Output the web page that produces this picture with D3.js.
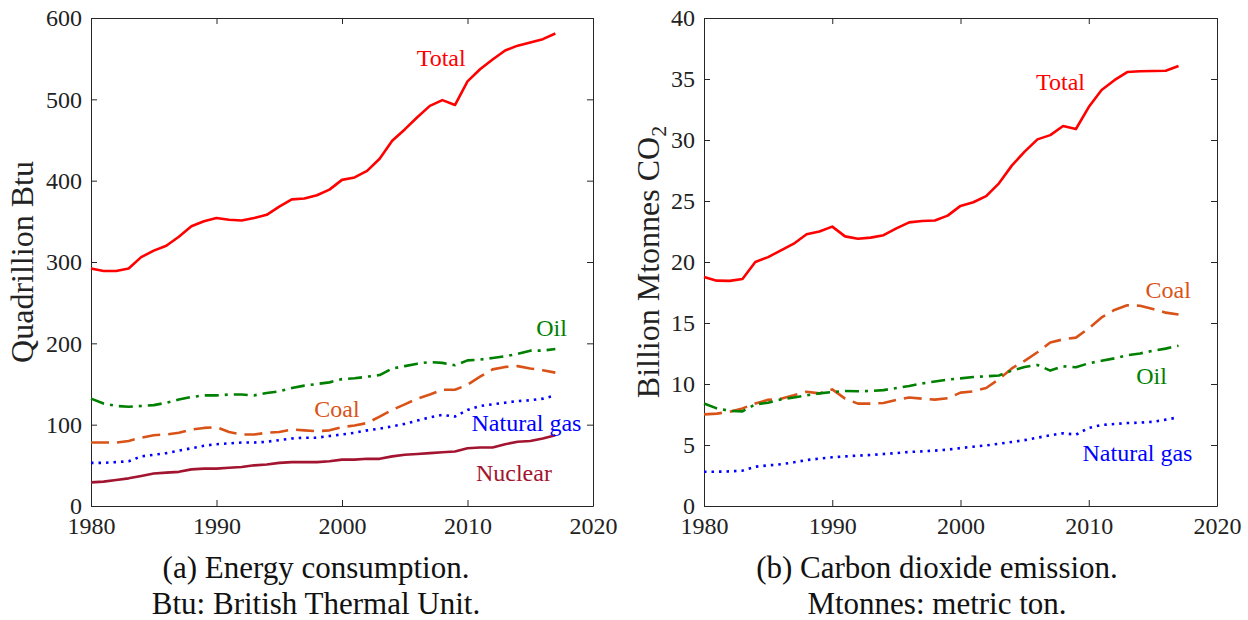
<!DOCTYPE html>
<html>
<head>
<meta charset="utf-8">
<script src="https://cdn.jsdelivr.net/npm/d3@7"></script>
<style>
  html, body { margin: 0; padding: 0; background: #fff; }
  svg { display: block; }
  text { font-family: "Liberation Serif", "DejaVu Serif", serif; }
</style>
</head>
<body>
<svg id="chart" width="1248" height="620"></svg>
<script>
// ---- data ----------------------------------------------------------
const years = [1980,1981,1982,1983,1984,1985,1986,1987,1988,1989,
               1990,1991,1992,1993,1994,1995,1996,1997,1998,1999,
               2000,2001,2002,2003,2004,2005,2006,2007,2008,2009,
               2010,2011,2012,2013,2014,2015,2016,2017];

// Energy consumption, quadrillion Btu
const energyTotal = [292,289,289,292,306,314,320,331,344,350,
                     354,352,351,354,358,368,377,378,382,389,
                     401,404,412,427,449,463,478,492,499,493,
                     522,537,549,560,566,570,574,581];
const energyOil = [132,126,123,122,123,124,127,131,134,136,
                   136,137,137,136,139,141,145,148,150,152,
                   156,157,159,161,169,172,175,177,176,173,
                   179,180,182,184,187,191,191,193];
const energyCoal = [78,78,78,80,84,87,88,90,94,96,
                    97,91,88,88,90,91,94,93,92,93,
                    97,99,102,110,118,125,132,137,143,143,
                    149,159,168,171,172,169,167,164];
const energyGas = [53,53,54,55,61,63,65,68,71,74,
                   76,77,78,78,79,81,83,84,84,86,
                   88,90,93,95,98,101,105,109,112,110,
                   118,123,125,127,129,130,132,136];
const energyNuclear = [29,30,32,34,37,40,41,42,45,46,
                       46,47,48,50,51,53,54,54,54,55,
                       57,57,58,58,61,63,64,65,66,67,
                       71,72,72,76,79,80,83,87];

// CO2 emission, billion Mtonnes
const co2Total = [18.77,18.47,18.45,18.6,20.0,20.4,20.96,21.5,22.27,22.5,
                  22.9,22.1,21.9,22.0,22.2,22.76,23.25,23.36,23.4,23.8,
                  24.6,24.9,25.4,26.45,27.9,29.05,30.05,30.4,31.15,30.9,
                  32.7,34.1,34.9,35.57,35.63,35.66,35.68,36.07];
const co2Coal = [7.51,7.57,7.73,8.0,8.4,8.7,8.8,9.07,9.37,9.23,
                 9.56,8.8,8.39,8.39,8.44,8.69,8.9,8.8,8.72,8.83,
                 9.29,9.4,9.67,10.4,11.28,11.9,12.6,13.4,13.66,13.8,
                 14.56,15.46,16.07,16.45,16.42,16.15,15.85,15.7];
const co2Oil = [8.4,8.0,7.8,7.76,8.33,8.47,8.74,8.9,9.07,9.23,
                9.34,9.43,9.4,9.43,9.5,9.67,9.84,10.05,10.2,10.36,
                10.46,10.57,10.63,10.7,11.1,11.4,11.56,11.1,11.45,11.37,
                11.7,11.9,12.1,12.35,12.5,12.73,12.9,13.14];
const co2Gas = [2.81,2.81,2.84,2.9,3.22,3.33,3.42,3.58,3.77,3.88,
                3.99,4.07,4.13,4.18,4.26,4.34,4.43,4.48,4.54,4.62,
                4.75,4.86,4.97,5.1,5.25,5.4,5.6,5.8,5.96,5.85,
                6.4,6.64,6.72,6.8,6.83,6.9,7.08,7.27];

// tick values
const xTicks = [1980, 1990, 2000, 2010, 2020];
const energyTicks = [0, 100, 200, 300, 400, 500, 600];
const co2Ticks = [0, 5, 10, 15, 20, 25, 30, 35, 40];

// series labels placed in data units: [year, value]
const energyLabelText = ["Total", "Oil", "Coal", "Natural gas", "Nuclear"];
const energyLabelPos = [[2007.9, 551], [2016.7, 219], [1999.6, 120], [2014.7, 103], [2013.7, 40.6]];
const co2LabelText = ["Total", "Coal", "Oil", "Natural gas"];
const co2LabelPos = [[2007.8, 34.75], [2016.2, 17.7], [2014.9, 10.7], [2013.8, 4.4]];

// ---- styles ----------------------------------------------------------
const styles = {
  "Total":       { color: "#ff0000", dash: null },
  "Oil":         { color: "#008000", dash: "14,6,3,6" },
  "Coal":        { color: "#d95319", dash: "18,8" },
  "Natural gas": { color: "#0000ff", dash: "2.5,5" },
  "Nuclear":     { color: "#a2142f", dash: null }
};

const svg = d3.select("#chart");
const axisColor = "#262626";

function panel(cfg) {
  const x = d3.scaleLinear().domain([1980, 2020]).range([cfg.left, cfg.right]);
  const y = d3.scaleLinear().domain(cfg.yDomain).range([506, 18]);
  const g = svg.append("g");

  const tick = 6;
  const styleAxis = sel => {
    sel.selectAll("path.domain").attr("stroke", axisColor).attr("stroke-width", 1);
    sel.selectAll(".tick line").attr("stroke", axisColor).attr("stroke-width", 1);
    sel.selectAll(".tick text")
      .attr("fill", "#222")
      .style("font-family", '"Liberation Serif", serif')
      .style("font-size", "24px");
  };

  g.append("g").attr("transform", `translate(0,${y.range()[0]})`)
    .call(d3.axisBottom(x).tickValues(xTicks).tickFormat(d3.format("d"))
      .tickSizeInner(-tick).tickSizeOuter(0).tickPadding(11))
    .call(styleAxis);
  g.append("g").attr("transform", `translate(0,${y.range()[1]})`)
    .call(d3.axisTop(x).tickValues(xTicks).tickFormat("")
      .tickSizeInner(-tick).tickSizeOuter(0))
    .call(styleAxis);
  g.append("g").attr("transform", `translate(${cfg.left},0)`)
    .call(d3.axisLeft(y).tickValues(cfg.yTicks).tickFormat(d3.format("d"))
      .tickSizeInner(-tick).tickSizeOuter(0).tickPadding(9))
    .call(styleAxis);
  g.append("g").attr("transform", `translate(${cfg.right},0)`)
    .call(d3.axisRight(y).tickValues(cfg.yTicks).tickFormat("")
      .tickSizeInner(-tick).tickSizeOuter(0))
    .call(styleAxis);

  const line = d3.line().x((d, i) => x(years[i])).y(d => y(d));
  cfg.series.forEach(s => {
    const st = styles[s.name];
    g.append("path")
      .datum(s.values)
      .attr("fill", "none")
      .attr("stroke", st.color)
      .attr("stroke-width", 2.6)
      .attr("stroke-linejoin", "round")
      .attr("stroke-dasharray", st.dash)
      .attr("d", line);
  });

  g.selectAll("text.series-label")
    .data(cfg.labelText)
    .join("text")
    .attr("class", "series-label")
    .attr("x", (d, i) => x(cfg.labelPos[i][0]))
    .attr("y", (d, i) => y(cfg.labelPos[i][1]))
    .attr("dy", "0.35em")
    .attr("text-anchor", "middle")
    .attr("fill", d => styles[d].color)
    .style("font-size", "24px")
    .text(d => d);

  // y-axis title
  const yl = g.append("text")
    .attr("transform", `translate(${cfg.yTitleX},262) rotate(-90)`)
    .attr("text-anchor", "middle")
    .attr("fill", "#222")
    .style("font-size", "32px");
  yl.append("tspan").text(cfg.yTitle);
  if (cfg.yTitleSub) {
    yl.append("tspan").attr("dy", 7).style("font-size", "22px").text(cfg.yTitleSub);
  }

  // caption
  cfg.caption.forEach((c, i) => {
    g.append("text")
      .attr("x", cfg.captionX)
      .attr("y", 578 + i * 36)
      .attr("text-anchor", "middle")
      .attr("fill", "#111")
      .style("font-size", "31px")
      .text(c);
  });
}

panel({
  left: 91, right: 593,
  yDomain: [0, 600], yTicks: energyTicks,
  series: [
    { name: "Total", values: energyTotal },
    { name: "Oil", values: energyOil },
    { name: "Coal", values: energyCoal },
    { name: "Natural gas", values: energyGas },
    { name: "Nuclear", values: energyNuclear }
  ],
  labelText: energyLabelText, labelPos: energyLabelPos,
  yTitle: "Quadrillion Btu", yTitleX: 33,
  caption: ["(a) Energy consumption.", "Btu: British Thermal Unit."],
  captionX: 316
});

panel({
  left: 704, right: 1217,
  yDomain: [0, 40], yTicks: co2Ticks,
  series: [
    { name: "Total", values: co2Total },
    { name: "Coal", values: co2Coal },
    { name: "Oil", values: co2Oil },
    { name: "Natural gas", values: co2Gas }
  ],
  labelText: co2LabelText, labelPos: co2LabelPos,
  yTitle: "Billion Mtonnes CO", yTitleSub: "2", yTitleX: 659,
  caption: ["(b) Carbon dioxide emission.", "Mtonnes: metric ton."],
  captionX: 937
});
</script>
</body>
</html>
